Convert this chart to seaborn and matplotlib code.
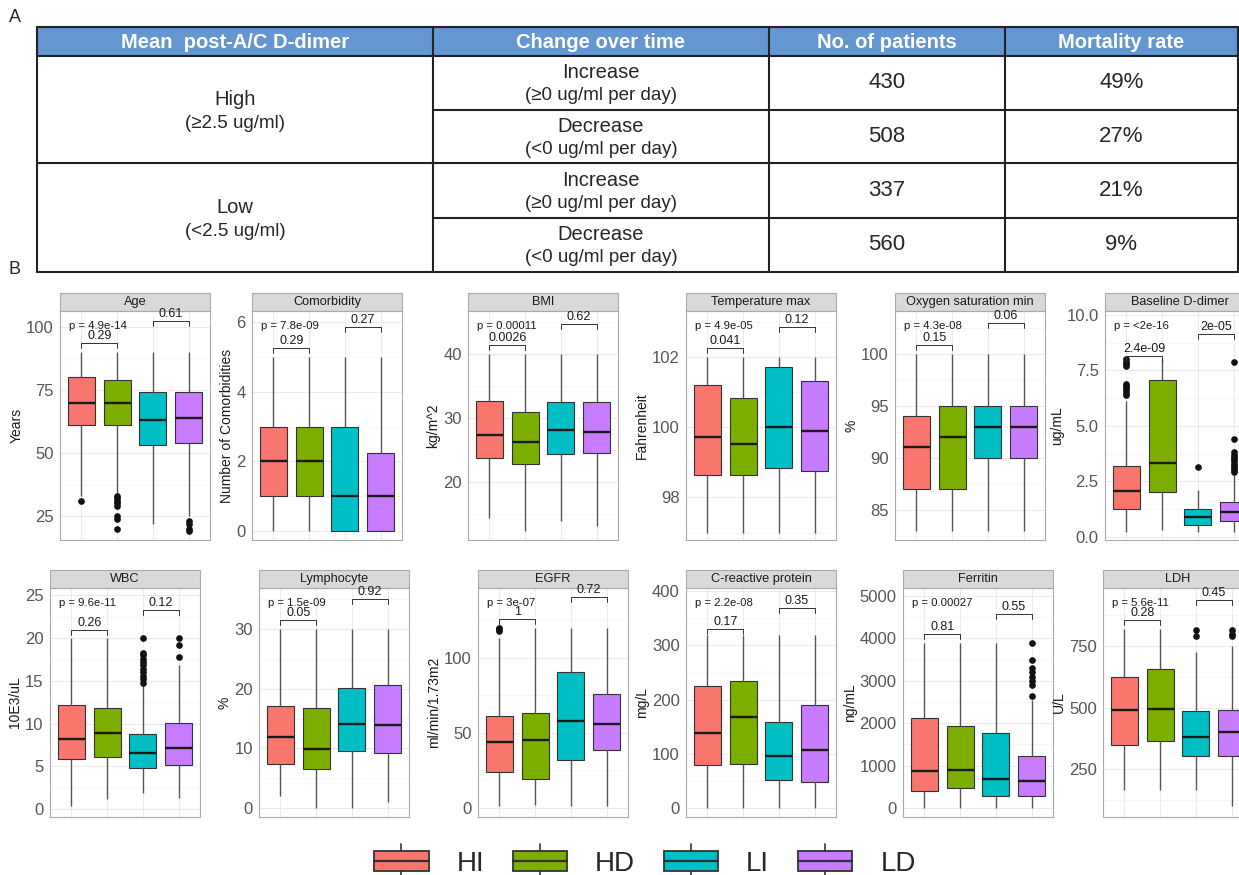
import numpy as np
import pandas as pd
import matplotlib
matplotlib.use("Agg")
import matplotlib.pyplot as plt
import seaborn as sns
from matplotlib.patches import Rectangle
from matplotlib.lines import Line2D
from matplotlib.legend_handler import HandlerBase
from matplotlib.ticker import AutoMinorLocator

# ---- Panel A table ----
HEADERS = ["Mean  post-A/C D-dimer", "Change over time", "No. of patients", "Mortality rate"]
LEVELS = [("High", "(≥2.5 ug/ml)"), ("Low", "(<2.5 ug/ml)")]
CHANGES = [("Increase", "(≥0 ug/ml per day)"), ("Decrease", "(<0 ug/ml per day)"),
           ("Increase", "(≥0 ug/ml per day)"), ("Decrease", "(<0 ug/ml per day)")]
N_PATIENTS = [430, 508, 337, 560]
MORTALITY = ["49%", "27%", "21%", "9%"]

# ---- Panel B boxplots ----
GROUPS = ["HI", "HD", "LI", "LD"]
COLORS = ["#F8766D", "#7CAE00", "#00BFC4", "#C77CFF"]

# (lower whisker, q1, median, q3, upper whisker) per group, plus outliers
AGE = [(33, 61, 70, 80, 90), (34, 61, 70, 79, 90), (22, 53, 63, 74, 90), (25, 54, 64, 74, 90)]
AGE_OUT = [[31], [33, 32, 31, 30, 29, 25, 24, 20], [], [23, 22, 20, 19]]
COMORB = [(0, 1, 2, 3, 5), (0, 1, 2, 3, 5), (0, 0, 1, 3, 5), (0, 0, 1, 2.25, 5)]
COMORB_OUT = [[], [], [], []]
BMI = [(14.4, 23.8, 27.4, 32.7, 40), (12.4, 22.9, 26.3, 31.0, 40),
       (13.9, 24.4, 28.1, 32.5, 40), (13.2, 24.5, 27.9, 32.5, 40)]
BMI_OUT = [[], [], [], []]
TEMP = [(97, 98.63, 99.72, 101.21, 102), (97, 98.63, 99.53, 100.82, 102),
        (97, 98.83, 100.0, 101.7, 102), (97, 98.74, 99.9, 101.3, 102)]
TEMP_OUT = [[], [], [], []]
OXY = [(83, 87, 91, 94, 100), (83, 87, 92, 95, 100), (83, 90, 93, 95, 100), (83, 90, 93, 95, 100)]
OXY_OUT = [[], [], [], []]
DDIMER = [(0.23, 1.25, 2.05, 3.21, 6.1), (0.3, 2.0, 3.34, 7.09, 8.0),
          (0.23, 0.52, 0.87, 1.25, 2.1), (0.23, 0.71, 1.12, 1.55, 2.8)]
DDIMER_OUT = [[6.4, 6.5, 6.6, 6.7, 6.8, 6.9, 7.7, 7.8, 7.9, 8.0], [], [3.13],
              [2.9, 3.0, 3.1, 3.2, 3.3, 3.4, 3.5, 3.6, 3.7, 3.8, 4.4, 7.9]]
WBC = [(0.3, 5.85, 8.2, 12.2, 20), (1.2, 6.1, 8.9, 11.86, 20),
       (1.9, 4.8, 6.55, 8.76, 14.6), (1.35, 5.1, 7.1, 10.1, 16.9)]
WBC_OUT = [[], [], [14.8, 15.2, 15.6, 16.0, 16.4, 16.8, 17.2, 17.6, 18.0, 18.3, 20], [17.8, 19.2, 20]]
LYMPH = [(1.95, 7.41, 11.87, 17.17, 30), (0, 6.5, 9.9, 16.78, 30),
         (0, 9.6, 14.1, 20.07, 30), (1, 9.2, 14.0, 20.6, 30)]
LYMPH_OUT = [[], [], [], []]
EGFR = [(1.1, 24.1, 44.2, 61.4, 113), (2, 19.6, 45.3, 63.6, 120),
        (1.1, 31.9, 57.8, 90.4, 120), (1, 38.4, 55.8, 75.9, 120)]
EGFR_OUT = [[118, 119, 120], [], [], []]
CRP = [(0, 78.5, 137.9, 225.7, 320), (0, 80.4, 168.8, 235, 320),
       (0, 50.7, 95.7, 159.5, 320), (0, 48.2, 107.6, 190.4, 320)]
CRP_OUT = [[], [], [], []]
FERRITIN = [(0, 392, 878, 2132, 3900), (0, 462, 901, 1935, 3900),
            (0, 290, 690, 1763, 3900), (0, 290, 627, 1215, 2550)]
FERRITIN_OUT = [[], [], [], [2650, 2900, 3000, 3100, 3200, 3300, 3500, 3900]]
LDH = [(166, 349, 490, 623, 818), (166, 363, 496, 657, 818),
       (166, 304, 380, 484, 727), (99, 304, 399, 490, 750)]
LDH_OUT = [[], [], [790, 815], [790, 800, 815]]

TITLES = ["Age", "Comorbidity", "BMI", "Temperature max", "Oxygen saturation min", "Baseline D-dimer",
          "WBC", "Lymphocyte", "EGFR", "C-reactive protein", "Ferritin", "LDH"]
YLABELS = ["Years", "Number of Comorbidities", "kg/m^2", "Fahrenheit", "%", "ug/mL",
           "10E3/uL", "%", "ml/min/1.73m2", "mg/L", "ng/mL", "U/L"]
STATS = [AGE, COMORB, BMI, TEMP, OXY, DDIMER, WBC, LYMPH, EGFR, CRP, FERRITIN, LDH]
OUTLIERS = [AGE_OUT, COMORB_OUT, BMI_OUT, TEMP_OUT, OXY_OUT, DDIMER_OUT,
            WBC_OUT, LYMPH_OUT, EGFR_OUT, CRP_OUT, FERRITIN_OUT, LDH_OUT]
P_GLOBAL = ["4.9e-14", "7.8e-09", "0.00011", "4.9e-05", "4.3e-08", "<2e-16",
            "9.6e-11", "1.5e-09", "3e-07", "2.2e-08", "0.00027", "5.6e-11"]
P_PAIRS = [("0.29", "0.61"), ("0.29", "0.27"), ("0.0026", "0.62"), ("0.041", "0.12"),
           ("0.15", "0.06"), ("2.4e-09", "2e-05"), ("0.26", "0.12"), ("0.05", "0.92"),
           ("1", "0.72"), ("0.17", "0.35"), ("0.81", "0.55"), ("0.28", "0.45")]
BRACKET_Y = [(93.6, 102.5), (5.27, 5.87), (41.4, 44.7), (102.26, 102.85), (100.86, 102.94),
             (8.16, 9.14), (20.9, 23.25), (31.5, 35.0), (126.1, 140.4), (330.8, 369.7),
             (4100, 4585), (855, 939)]
YLIMS = [(15.5, 106.3), (-0.26, 6.33), (11.0, 46.7), (96.79, 103.3), (82.1, 104.1), (-0.15, 10.18),
         (-0.93, 25.86), (-1.5, 36.9), (-6, 146.6), (-16.7, 406), (-212, 5188), (55, 986)]
YTICKS = [[25, 50, 75, 100], [0, 2, 4, 6], [20, 30, 40], [98, 100, 102], [85, 90, 95, 100],
          [0, 2.5, 5, 7.5, 10], [0, 5, 10, 15, 20, 25], [0, 10, 20, 30], [0, 50, 100],
          [0, 100, 200, 300, 400], [0, 1000, 2000, 3000, 4000, 5000], [250, 500, 750]]
YTICKLABELS = [["25", "50", "75", "100"], ["0", "2", "4", "6"], ["20", "30", "40"],
               ["98", "100", "102"], ["85", "90", "95", "100"], ["0.0", "2.5", "5.0", "7.5", "10.0"],
               ["0", "5", "10", "15", "20", "25"], ["0", "10", "20", "30"], ["0", "50", "100"],
               ["0", "100", "200", "300", "400"], ["0", "1000", "2000", "3000", "4000", "5000"],
               ["250", "500", "750"]]


def expand(summary, outliers):
    """Turn a five-number summary + outliers into a sample with exactly those quartiles."""
    lo, q1, med, q3, hi = summary
    low = sorted([v for v in outliers if v < q1] + [lo])
    high = sorted([v for v in outliers if v > q3] + [hi])
    m = max(len(low), len(high))
    low = low + [q1] * (m - len(low))
    high = [q3] * (m - len(high)) + high
    return low + [q1] + [med] * (2 * m - 1) + [q3] + high


sns.set_theme(style="white")
plt.rcParams["font.family"] = ["Liberation Sans", "DejaVu Sans"]

W, H = 1239, 875
fig = plt.figure(figsize=(W / 100, H / 100), dpi=100)

# overlay axes in pixel coordinates for table + panel letters
ov = fig.add_axes([0, 0, 1, 1])
ov.set_xlim(0, W)
ov.set_ylim(H, 0)
ov.axis("off")
ov.patch.set_alpha(0)

ov.text(15, 18, "A", fontsize=13, ha="center", va="center")
ov.text(15, 270, "B", fontsize=13, ha="center", va="center")

tx0, tx1 = 37, 1238
cols = [37, 433, 769, 1005, 1238]
ty = [27, 56, 110, 163, 218, 272]
ov.add_patch(Rectangle((tx0, ty[0]), tx1 - tx0, ty[1] - ty[0], facecolor="#6497D2", edgecolor="none"))
for i, hdr in enumerate(HEADERS):
    ov.text((cols[i] + cols[i + 1]) / 2, (ty[0] + ty[1]) / 2 + 1, hdr, color="white",
            fontsize=14.5, fontweight="bold", ha="center", va="center")
lw = 1.5
for y in [ty[0], ty[1], ty[3], ty[5]]:
    ov.plot([tx0, tx1], [y, y], color="#222222", lw=lw)
for y in [ty[2], ty[4]]:
    ov.plot([cols[1], tx1], [y, y], color="#222222", lw=lw)
for x in cols:
    ov.plot([x, x], [ty[0], ty[5]], color="#222222", lw=lw)

for i, (lvl, rng) in enumerate(LEVELS):
    yc = (ty[1 + 2 * i] + ty[3 + 2 * i]) / 2
    ov.text((cols[0] + cols[1]) / 2, yc - 10, lvl, fontsize=14.5, ha="center", va="center")
    ov.text((cols[0] + cols[1]) / 2, yc + 14, rng, fontsize=13.5, ha="center", va="center")
for i in range(4):
    yc = (ty[1 + i] + ty[2 + i]) / 2
    ov.text((cols[1] + cols[2]) / 2, yc - 10, CHANGES[i][0], fontsize=14.5, ha="center", va="center")
    ov.text((cols[1] + cols[2]) / 2, yc + 13, CHANGES[i][1], fontsize=13.5, ha="center", va="center")
    ov.text((cols[2] + cols[3]) / 2, yc, str(N_PATIENTS[i]), fontsize=16, ha="center", va="center")
    ov.text((cols[3] + cols[4]) / 2, yc, MORTALITY[i], fontsize=16, ha="center", va="center")

# facet geometry (pixels)
LEFTS = [[60, 252, 468, 686, 895, 1105], [50, 259, 478, 686, 903, 1103]]
TOPS = [311, 588]
PW, PH, STRIP = 150, 229, 18

palette = dict(zip(GROUPS, COLORS))

for k in range(12):
    r, c = divmod(k, 6)
    left, top = LEFTS[r][c], TOPS[r]
    ax = fig.add_axes([left / W, 1 - (top + PH) / H, PW / W, PH / H])
    rows = []
    for g, summ, outs in zip(GROUPS, STATS[k], OUTLIERS[k]):
        for v in expand(summ, outs):
            rows.append((g, v))
    df = pd.DataFrame(rows, columns=["group", "value"])
    sns.boxplot(data=df, x="group", y="value", hue="group", order=GROUPS, hue_order=GROUPS,
                palette=palette, saturation=1, width=0.75, linewidth=0.8, linecolor="#333333",
                showcaps=False, legend=False, ax=ax,
                medianprops=dict(color="#1a1a1a", linewidth=1.7),
                whiskerprops=dict(color="#555555", linewidth=1.0),
                flierprops=dict(marker="o", markersize=3.8, markerfacecolor="#111111",
                                markeredgecolor="#111111"))
    ax.set_xlim(-0.6, 3.6)
    ax.set_ylim(*YLIMS[k])
    ax.set_yticks(YTICKS[k])
    ax.set_yticklabels(YTICKLABELS[k])
    ax.yaxis.set_minor_locator(AutoMinorLocator(2))
    ax.set_xticks(range(4))
    ax.set_xticklabels([])
    ax.tick_params(axis="x", length=0)
    ax.tick_params(axis="y", which="major", length=3, width=0.6, color="#333333",
                   labelsize=12, labelcolor="#555555", pad=1.5)
    ax.tick_params(axis="y", which="minor", length=0)
    ax.grid(True, which="major", color="#EBEBEB", lw=0.7)
    ax.grid(True, which="minor", axis="y", color="#F3F3F3", lw=0.5)
    ax.set_axisbelow(True)
    ax.set_xlabel("")
    ax.set_ylabel(YLABELS[k], fontsize=10, color="#1a1a1a", labelpad=2)
    for sp in ax.spines.values():
        sp.set_color("#AAAAAA")
        sp.set_linewidth(0.8)

    # strip
    sh = STRIP / PH
    ax.add_patch(Rectangle((0, 1), 1, sh, transform=ax.transAxes, facecolor="#D9D9D9",
                           edgecolor="#AAAAAA", lw=0.8, clip_on=False))
    ax.text(0.5, 1 + sh / 2, TITLES[k], transform=ax.transAxes, ha="center", va="center",
            fontsize=9.2, color="#1a1a1a")

    # global p-value
    ax.text(0.06, 0.935, f"p = {P_GLOBAL[k]}", transform=ax.transAxes, ha="left", va="center",
            fontsize=8.2, color="#1a1a1a")

    # pairwise brackets
    y0, y1 = YLIMS[k]
    tip = 0.022 * (y1 - y0)
    for (a, b), yb, lab in zip([(0, 1), (2, 3)], BRACKET_Y[k], P_PAIRS[k]):
        ax.plot([a, a, b, b], [yb - tip, yb, yb, yb - tip], color="#333333", lw=0.7)
        ax.text((a + b) / 2, yb + 0.004 * (y1 - y0), lab, ha="center", va="bottom",
                fontsize=9, color="#1a1a1a")


class BoxHandler(HandlerBase):
    def create_artists(self, legend, orig_handle, xdescent, ydescent, width, height, fontsize, trans):
        x0, y0 = -xdescent, -ydescent
        rect = Rectangle((x0, y0), width, height, facecolor=orig_handle.get_facecolor(),
                         edgecolor="#333333", lw=1.3, transform=trans)
        med = Line2D([x0, x0 + width], [y0 + height / 2] * 2, color="#333333", lw=1.6, transform=trans)
        wt = Line2D([x0 + width / 2] * 2, [y0 + height, y0 + height * 1.35], color="#333333",
                    lw=1.2, transform=trans)
        wb = Line2D([x0 + width / 2] * 2, [y0, y0 - height * 0.35], color="#333333",
                    lw=1.2, transform=trans)
        return [rect, med, wt, wb]


handles = [Rectangle((0, 0), 1, 1, facecolor=col) for col in COLORS]
fig.legend(handles, GROUPS, handler_map={Rectangle: BoxHandler()}, loc="center",
           bbox_to_anchor=(645 / W, 1 - 864 / H), ncol=4, frameon=False, fontsize=20,
           handlelength=1.95, handleheight=0.72, handletextpad=1.0, columnspacing=1.05,
           borderpad=0)

fig.savefig("out.png", dpi=100)
